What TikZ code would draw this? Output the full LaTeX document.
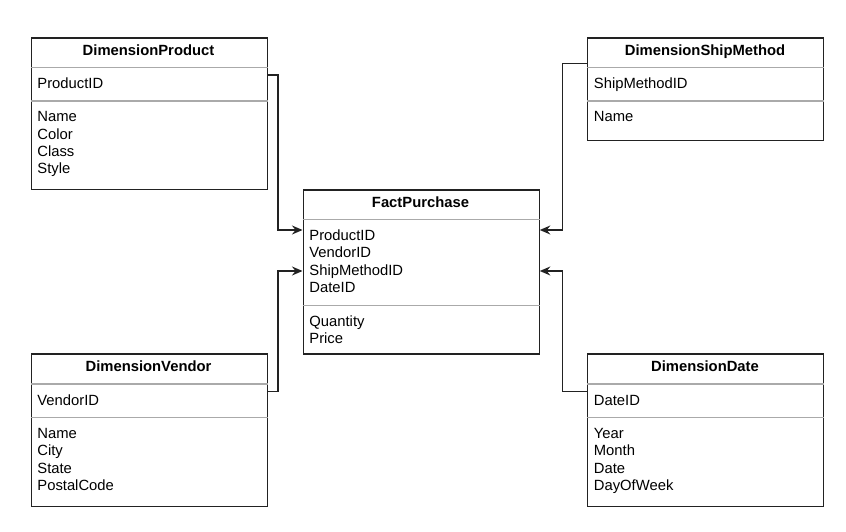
\documentclass[tikz,border=0pt]{standalone}
\usepackage{fontspec}
\setmainfont{Liberation Sans}
\usetikzlibrary{arrows.meta}
\definecolor{bord}{HTML}{222222}
\definecolor{sep}{HTML}{AAAAAA}
\begin{document}
\begin{tikzpicture}[x=1bp,y=-1bp,
  tbl/.style={draw=bord,line width=1.3bp,fill=white,inner sep=0pt,minimum width=236bp,anchor=north west,rectangle},
  sepline/.style={draw=sep,line width=1.3bp},
  hdr/.style={font=\fontsize{14.8bp}{17.3bp}\selectfont\bfseries,inner sep=0pt,anchor=base},
  fld/.style={font=\fontsize{14.8bp}{17.3bp}\selectfont,inner sep=0pt,anchor=base west},
  conn/.style={draw=bord,line width=1.3bp,-{Stealth[length=10.5bp,width=9bp,inset=3.5bp]}},
]
\useasboundingbox (0,0) rectangle (846,532);
\fill[white] (0,0) rectangle (846,532);

% DimensionProduct
\node[tbl,minimum height=151.7bp] (prod) at (30.5,37.3) {};
\draw[sepline] (prod.west |- 0,67.7) -- (prod.east |- 0,67.7);
\draw[sepline] (prod.west |- 0,101) -- (prod.east |- 0,101);
\node[hdr] (prodh) at (148.5,55.6) {DimensionProduct};
\node[fld] (prodk) at (37.2,88.7) {ProductID};
\foreach \t [count=\i from 0] in {Name,Color,Class,Style}
  \node[fld] (proda\i) at (37.2,121.9+17.3*\i) {\t};

% DimensionShipMethod
\node[tbl,minimum height=102.7bp] (ship) at (587,37.3) {};
\draw[sepline] (ship.west |- 0,67.7) -- (ship.east |- 0,67.7);
\draw[sepline] (ship.west |- 0,101) -- (ship.east |- 0,101);
\node[hdr] (shiph) at (705,55.6) {DimensionShipMethod};
\node[fld] (shipk) at (593.7,88.7) {ShipMethodID};
\node[fld] (shipa) at (593.7,121.9) {Name};

% FactPurchase
\node[tbl,minimum height=164bp] (fact) at (302.5,189.3) {};
\draw[sepline] (fact.west |- 0,219.5) -- (fact.east |- 0,219.5);
\draw[sepline] (fact.west |- 0,305.5) -- (fact.east |- 0,305.5);
\node[hdr] (facth) at (420.5,207.4) {FactPurchase};
\foreach \t [count=\i from 0] in {ProductID,VendorID,ShipMethodID,DateID}
  \node[fld] (factk\i) at (309.2,240.6+17.3*\i) {\t};
\foreach \t [count=\i from 0] in {Quantity,Price}
  \node[fld] (facta\i) at (309.2,326.6+17.3*\i) {\t};

% DimensionVendor
\node[tbl,minimum height=152.4bp] (vend) at (30.5,353.3) {};
\draw[sepline] (vend.west |- 0,384) -- (vend.east |- 0,384);
\draw[sepline] (vend.west |- 0,417.5) -- (vend.east |- 0,417.5);
\node[hdr] (vendh) at (148.5,371.8) {DimensionVendor};
\node[fld] (vendk) at (37.2,405.2) {VendorID};
\foreach \t [count=\i from 0] in {Name,City,State,PostalCode}
  \node[fld] (venda\i) at (37.2,438.6+17.3*\i) {\t};

% DimensionDate
\node[tbl,minimum height=152.4bp] (date) at (587,353.3) {};
\draw[sepline] (date.west |- 0,384) -- (date.east |- 0,384);
\draw[sepline] (date.west |- 0,417.5) -- (date.east |- 0,417.5);
\node[hdr] (dateh) at (705,371.8) {DimensionDate};
\node[fld] (datek) at (593.7,405.2) {DateID};
\foreach \t [count=\i from 0] in {Year,Month,Date,DayOfWeek}
  \node[fld] (datea\i) at (593.7,438.6+17.3*\i) {\t};

% connectors
\draw[conn] (prod.east |- 0,75) -| (278,230) -- (fact.west |- 0,230);
\draw[conn] (vend.east |- 0,391.5) -| (278,271) -- (fact.west |- 0,271);
\draw[conn] (ship.west |- 0,63.5) -| (562.5,230) -- (fact.east |- 0,230);
\draw[conn] (date.west |- 0,391.5) -| (562.5,271) -- (fact.east |- 0,271);
\end{tikzpicture}
\end{document}
